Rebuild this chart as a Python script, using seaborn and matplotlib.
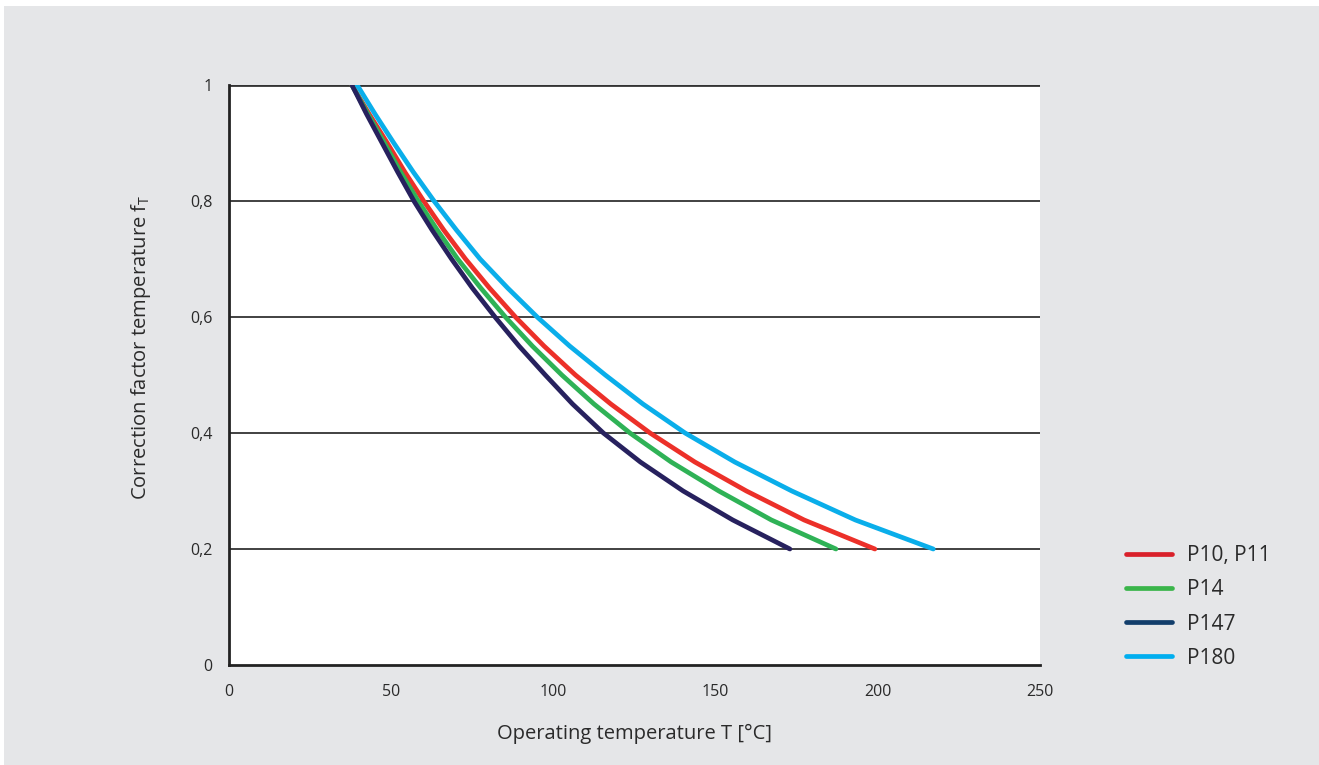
import numpy as np
import pandas as pd
import matplotlib
matplotlib.use("Agg")
import matplotlib.pyplot as plt
from matplotlib.lines import Line2D
from matplotlib.patches import Rectangle
import seaborn as sns

# ---- data (read / estimated from the reference) ----
f_T = [1.0, 0.95, 0.9, 0.85, 0.8, 0.75, 0.7, 0.65, 0.6, 0.55, 0.5, 0.45, 0.4,
       0.35, 0.3, 0.25, 0.2]
T_P10_P11 = [37.9, 43.2, 48.8, 54.2, 60.0, 66.2, 72.9, 80.3, 88.3, 97.1, 106.8,
             117.7, 129.8, 143.6, 159.5, 177.3, 199.1]
T_P14 = [37.9, 42.8, 47.9, 52.9, 58.3, 64.2, 70.5, 77.6, 85.2, 93.5, 102.6,
         112.5, 123.6, 136.3, 151.0, 167.2, 187.1]
T_P147 = [37.9, 42.4, 47.2, 52.0, 57.0, 62.6, 68.6, 75.0, 82.0, 89.4, 97.5,
          105.9, 115.4, 126.8, 140.0, 155.3, 172.9]
T_P180 = [39.5, 45.0, 50.8, 56.8, 63.2, 70.1, 77.4, 85.9, 95.0, 105.0, 116.0,
          127.6, 140.6, 155.9, 173.5, 193.1, 217.1]
series_names = ["P10, P11", "P14", "P147", "P180"]
x_ticks = [0, 50, 100, 150, 200, 250]
y_ticks = [0, 0.2, 0.4, 0.6, 0.8, 1.0]
y_tick_labels = ["0", "0,2", "0,4", "0,6", "0,8", "1"]

curve_colors = ["#ec3029", "#2fb256", "#27215e", "#0aaeea"]
legend_colors = ["#d9202a", "#3ab54a", "#123e6b", "#00aeef"]

rows = []
for name, xs in zip(series_names, [T_P10_P11, T_P14, T_P147, T_P180]):
    for t, f in zip(xs, f_T):
        rows.append({"series": name, "T": t, "f": f})
df = pd.DataFrame(rows)

sns.set_theme(style="white")
plt.rcParams["font.family"] = ["Open Sans", "DejaVu Sans"]
plt.rcParams["mathtext.fontset"] = "custom"
plt.rcParams["mathtext.rm"] = "Open Sans"

BG = "#e5e6e8"
TXT = "#2a2a2a"
fig = plt.figure(figsize=(13.19, 7.65), dpi=100, facecolor="white")
fig.patches.append(Rectangle((4 / 1319, 0), 1, 1 - 6 / 765, transform=fig.transFigure,
                             facecolor=BG, edgecolor="none", zorder=-10))

ax = fig.add_axes([229 / 1319, 100 / 765, 811 / 1319, 580 / 765])
ax.set_facecolor("white")

palette = dict(zip(series_names, curve_colors))
sns.lineplot(data=df, x="T", y="f", hue="series", palette=palette, sort=False,
             estimator=None, legend=False, linewidth=3.4, ax=ax, zorder=5)
for ln in ax.get_lines():
    ln.set_solid_capstyle("round")
    ln.set_solid_joinstyle("round")

ax.set_xlim(0, 250)
ax.set_ylim(0, 1)
ax.set_xticks(x_ticks)
ax.set_xticklabels([str(v) for v in x_ticks])
ax.set_yticks(y_ticks)
ax.set_yticklabels(y_tick_labels)

for y in y_ticks[1:]:
    ax.axhline(y, color="#333333", linewidth=1.3 if y < 1 else 2.0, zorder=1)

for s in ["top", "right"]:
    ax.spines[s].set_visible(False)
for s in ["left", "bottom"]:
    ax.spines[s].set_color("#222222")
    ax.spines[s].set_linewidth(2.0)

ax.tick_params(axis="both", which="major", direction="out", length=6, width=1.5,
               color="#222222", labelsize=11.5, labelcolor=TXT, pad=8)
ax.tick_params(axis="y", pad=6)

ax.set_xlabel("Operating temperature T [°C]", fontsize=14.5, color=TXT, labelpad=17)
ax.set_ylabel("Correction factor temperature f$_\\mathregular{T}$", fontsize=14.5,
              color=TXT)
ax.yaxis.set_label_coords((153 - 229) / 811, 0.547)

handles = [Line2D([0], [0], color=c, linewidth=3.4) for c in legend_colors]
leg = fig.legend(handles, series_names, loc="upper left",
                 bbox_to_anchor=(1118 / 1319, 1 - 537 / 765), frameon=False,
                 fontsize=15, handlelength=2.2, handletextpad=0.72,
                 labelspacing=0.63, borderaxespad=0)
for t in leg.get_texts():
    t.set_color(TXT)

fig.savefig("out.png", dpi=100, facecolor=fig.get_facecolor())
